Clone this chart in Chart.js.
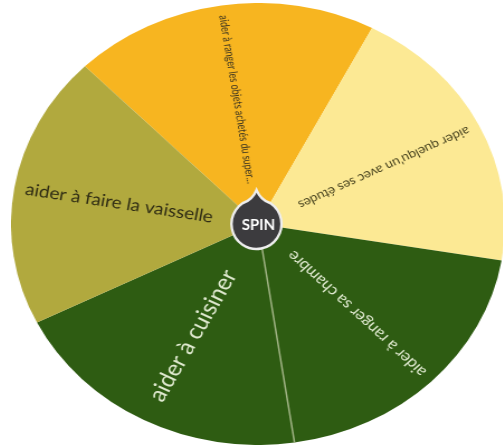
<!DOCTYPE html>
<html>
<head>
<meta charset="utf-8">
<script src="https://cdn.jsdelivr.net/npm/chart.js@4.4.1/dist/chart.umd.min.js"></script>
<style>
  html, body { margin: 0; padding: 0; background: #fff; overflow: hidden; }
  body { width: 503px; height: 447px; position: relative; }
  /* the wheel in the reference is a bit wider than tall */
  #wheel {
    position: absolute; left: 37px; top: 3px; width: 442px; height: 442px;
    transform: scaleX(1.1176); transform-origin: 221px 221px;
  }
</style>
</head>
<body>
<div id="wheel"><canvas id="chart"></canvas></div>
<script>
const labels = [
  "aider à ranger les objets achetés du super...",
  "aider quelqu'un avec ses études",
  "aider à ranger sa chambre",
  "aider à cuisiner",
  "aider à faire la vaisselle"
];
const weights = [1, 1, 1, 1, 1];

const sliceColors = ["#f7b520", "#fce994", "#2e5c12", "#2e5c12", "#b1a93e"];
const textColors = ["#3a3320", "#4a4520", "#dfe9cf", "#dfe9cf", "#2f2c14"];
const SX = 1.1176;

/* ================= LABELS + SPIN ================= */

const wheelPlugin = {
  id: "wheel",
  afterDatasetsDraw(chart) {
    const ctx = chart.ctx;
    const arcs = chart.getDatasetMeta(0).data;

    // thin line between two slices of the same colour
    arcs.forEach((arc, i) => {
      const prev = (i + arcs.length - 1) % arcs.length;
      if (sliceColors[i] !== sliceColors[prev]) return;
      const a = arc.startAngle;
      ctx.save();
      ctx.strokeStyle = "#9fb283";
      ctx.lineWidth = 1.5;
      ctx.beginPath();
      ctx.moveTo(arc.x, arc.y);
      ctx.lineTo(arc.x + Math.cos(a) * arc.outerRadius, arc.y + Math.sin(a) * arc.outerRadius);
      ctx.stroke();
      ctx.restore();
    });

    arcs.forEach((arc, i) => {
      const mid = (arc.startAngle + arc.endAngle) / 2;
      const r = arc.outerRadius;
      const maxLen = r * 0.77;
      const textR = r * 0.57;

      ctx.save();
      ctx.translate(arc.x, arc.y);
      ctx.rotate(mid + Math.PI);
      ctx.translate(-textR, 0);

      let size = 22;
      ctx.font = `${size}px Lato`;
      let w = ctx.measureText(labels[i]).width;
      size = Math.min(22, size * maxLen / w);
      let squeeze = 1;
      if (size < 11) {
        size = 11;
        ctx.font = `${size}px Lato`;
        w = ctx.measureText(labels[i]).width;
        squeeze = maxLen / w;
      }
      ctx.font = `${size}px Lato`;
      ctx.scale(squeeze, 1);
      ctx.fillStyle = textColors[i];
      ctx.textAlign = "center";
      ctx.textBaseline = "middle";
      ctx.fillText(labels[i], 0, 0);
      ctx.restore();
    });

    // spin button, kept round despite the stretch
    const c = arcs[0];
    const rad = (d) => d * Math.PI / 180;
    ctx.save();
    ctx.translate(c.x - 1.5 / SX, c.y);
    ctx.scale(1 / SX, 1);
    ctx.beginPath();
    ctx.moveTo(0, -34);
    ctx.quadraticCurveTo(4, -24, 14, -20.7);
    ctx.arc(0, 0, 25, rad(-55.9), rad(235.9), false);
    ctx.quadraticCurveTo(-4, -24, 0, -34);
    ctx.closePath();
    ctx.fillStyle = "#3c3b3e";
    ctx.fill();
    ctx.strokeStyle = "#eeeeee";
    ctx.lineWidth = 2.5;
    ctx.stroke();
    ctx.fillStyle = "#ffffff";
    ctx.font = "bold 15px Lato";
    ctx.textAlign = "center";
    ctx.textBaseline = "middle";
    ctx.fillText("SPIN", 2, 1);
    ctx.restore();
  }
};

new Chart(document.getElementById("chart"), {
  type: "pie",
  data: {
    labels: labels,
    datasets: [{
      data: weights,
      backgroundColor: sliceColors,
      borderWidth: 0,
      hoverOffset: 0,
      offset: 0
    }]
  },
  options: {
    responsive: true,
    maintainAspectRatio: false,
    animation: false,
    events: [],
    rotation: -44.5,
    layout: { padding: 0 },
    plugins: {
      legend: { display: false },
      tooltip: { enabled: false }
    }
  },
  plugins: [wheelPlugin]
});
</script>
</body>
</html>
